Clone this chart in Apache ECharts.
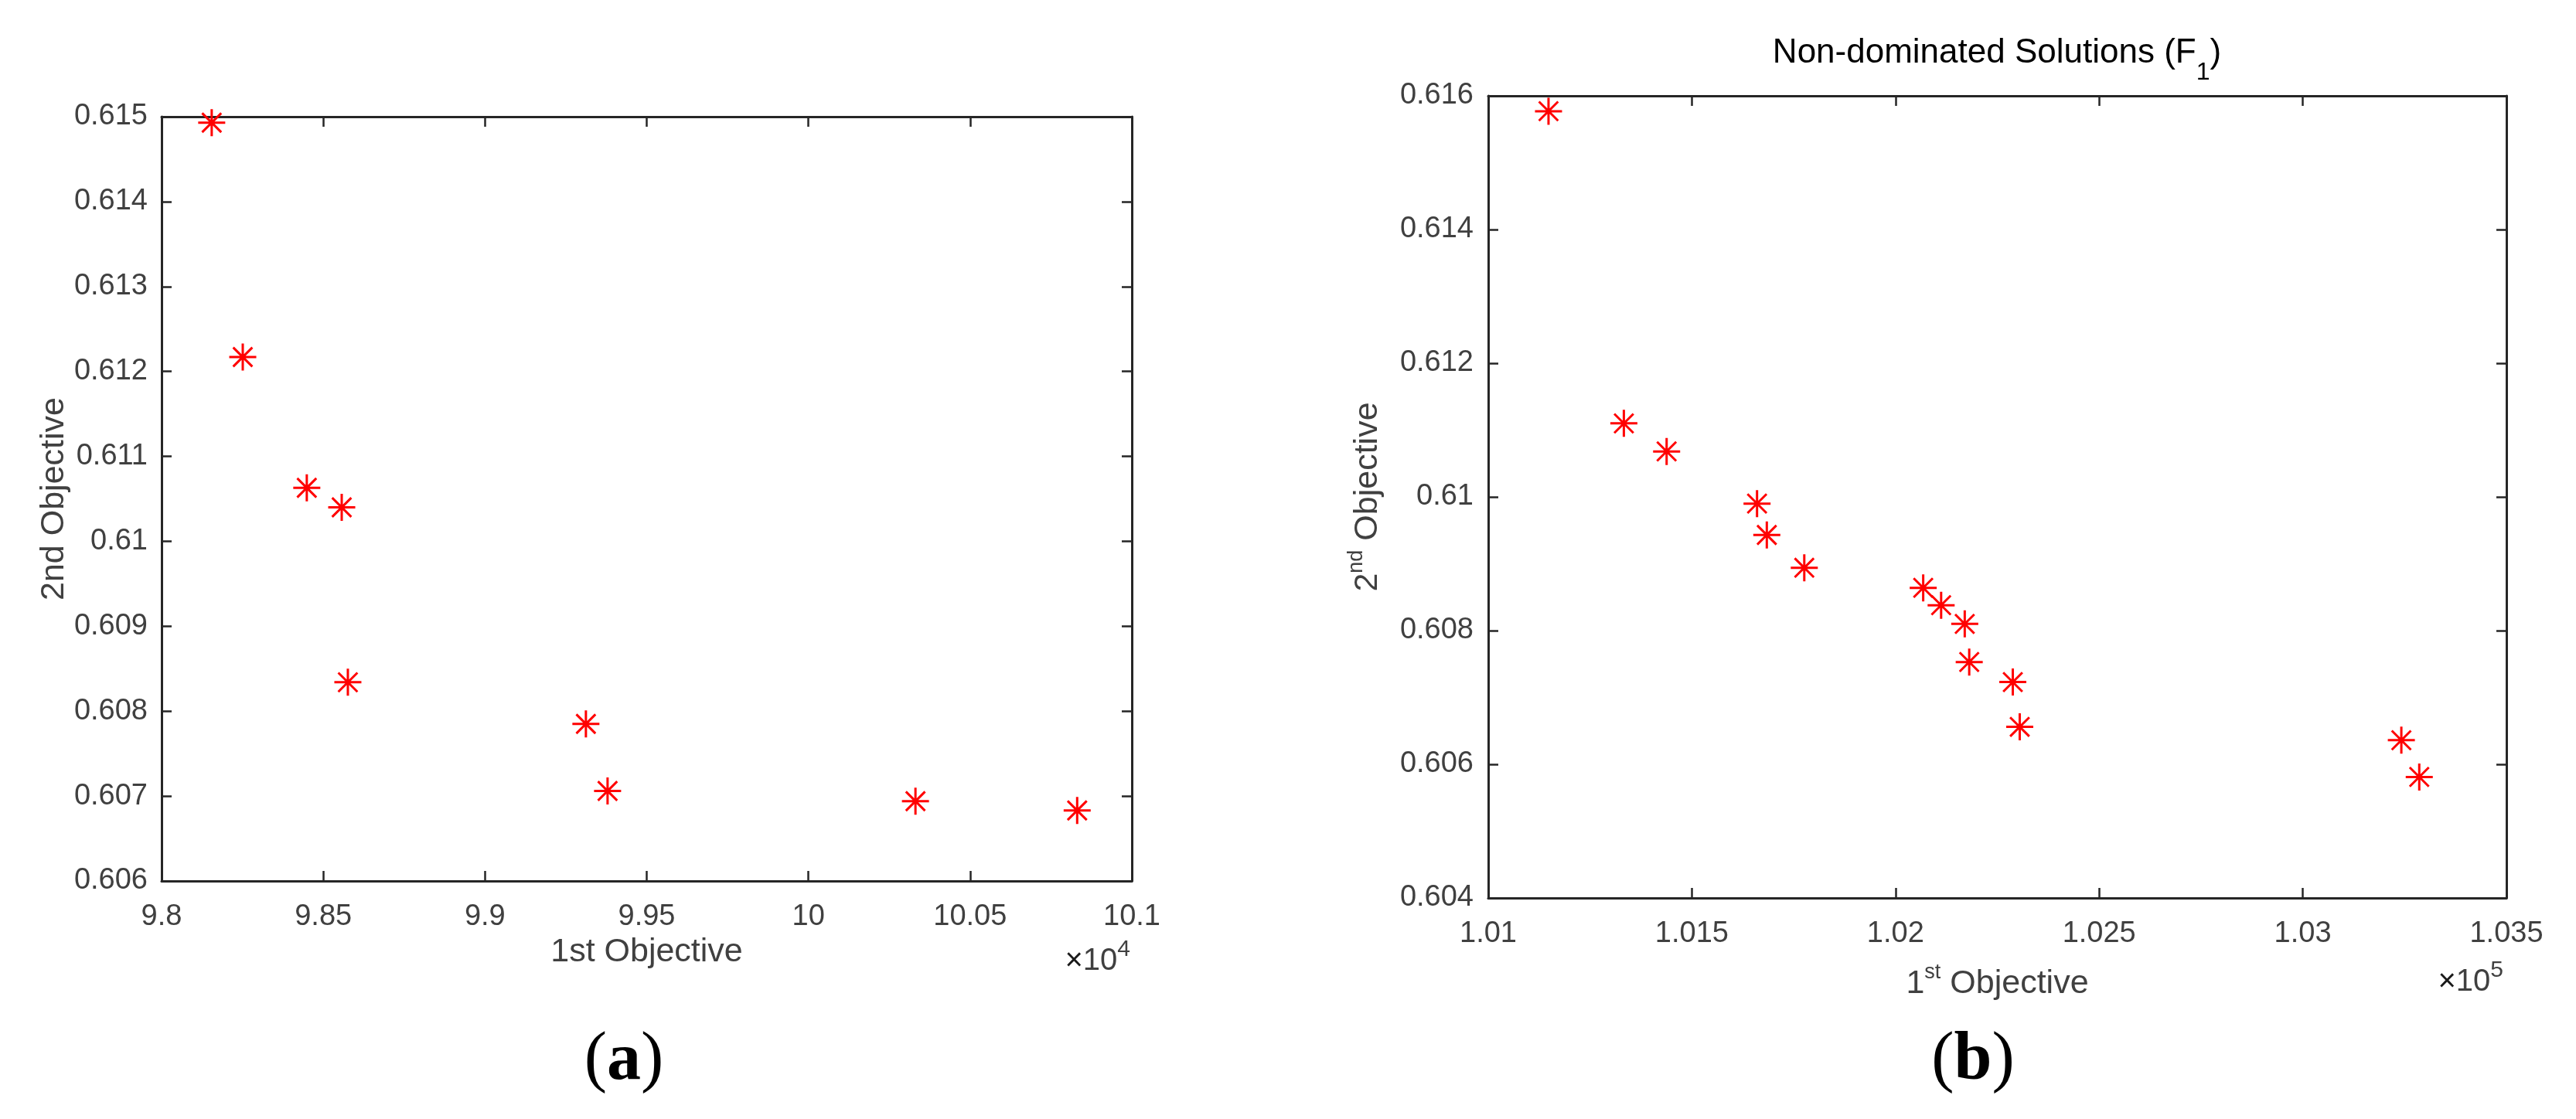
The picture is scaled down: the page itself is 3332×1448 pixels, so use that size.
<!DOCTYPE html>
<html>
  <head>
    <meta charset="utf-8">
    <title>Objectives</title>
    <style media="screen">
    html, body {margin:0; padding:0; background:#fff}
    #main {width:3332px; height:1448px}
    </style>
    <script src="https://cdn.jsdelivr.net/npm/echarts@6/dist/echarts.min.js" charset="utf-8"></script>
  </head>
  <body>
    <div id="main"></div>
    <script>
    // (a) points
    const aFirst = [9.8155, 9.8251, 9.8449, 9.8557, 9.8576, 9.9312, 9.9379, 10.0331, 10.0831];
    const aSecond = [0.61493, 0.61217, 0.61063, 0.6104, 0.60834, 0.60785, 0.60706, 0.60694, 0.60683];
    // (b) points
    const bFirst = [1.01148, 1.01333, 1.01438, 1.0166, 1.01684, 1.01776, 1.02068, 1.02112, 1.0217, 1.02181, 1.02288, 1.02305, 1.03242, 1.03286];
    const bSecond = [0.61577, 0.6111, 0.61068, 0.6099, 0.60943, 0.60894, 0.60864, 0.60838, 0.6081, 0.60753, 0.60723, 0.60656, 0.60636, 0.60581];

    // axis ranges [min, max, step]
    const aXRange = [9.8, 10.1, 0.05];
    const aYRange = [0.606, 0.615, 0.001];
    const bXRange = [1.01, 1.035, 0.005];
    const bYRange = [0.604, 0.616, 0.002];

    const FONT = '"Liberation Sans", Arial, Helvetica, sans-serif';
    const SERIF = '"Liberation Serif", "Times New Roman", serif';
    const AX = '#262626';
    const TXT = '#404040';
    const star = 'path://M0 -1 L0 1 M-1 0 L1 0 M-0.7071 -0.7071 L0.7071 0.7071 M-0.7071 0.7071 L0.7071 -0.7071';

    const fmt = v => String(+v.toFixed(4));

    function axis(range, grid, pos, labelled, extra){
      return Object.assign({
        type: 'value', gridIndex: grid, position: pos,
        min: range[0], max: range[1], interval: range[2],
        axisLine: {show: true, onZero: false, lineStyle: {color: AX, width: 3}},
        axisTick: {show: true, inside: true, length: 13, lineStyle: {color: AX, width: 2.5}},
        axisLabel: {show: labelled, formatter: fmt, color: TXT, fontSize: 38, fontFamily: FONT},
        splitLine: {show: false}
      }, extra || {});
    }

    const nameStyle = {
      color: TXT, fontSize: 43, fontFamily: FONT,
      rich: {
        t: {color: TXT, fontSize: 43, fontFamily: FONT},
        s: {color: TXT, fontSize: 27, fontFamily: FONT, padding: [0, 0, 30, 0]}
      }
    };

    let chart = echarts.init(document.getElementById('main'));

    let option = {
      backgroundColor: '#fff',
      animation: false,
      grid: [
        {left: 209, top: 151, width: 1255, height: 989, outerBoundsMode: 'none'},
        {left: 1925, top: 124, width: 1317, height: 1038, outerBoundsMode: 'none'}
      ],
      xAxis: [
        axis(aXRange, 0, 'bottom', true, {
          axisLabel: {show: true, formatter: fmt, color: TXT, fontSize: 38, fontFamily: FONT, margin: 28},
          name: '1st Objective', nameLocation: 'middle', nameGap: 70, nameTextStyle: nameStyle
        }),
        axis(aXRange, 0, 'top', false),
        axis(bXRange, 1, 'bottom', true, {
          axisLabel: {show: true, formatter: fmt, color: TXT, fontSize: 38, fontFamily: FONT, margin: 28},
          name: '{t|1}{s|st}{t| Objective}', nameLocation: 'middle', nameGap: 83, nameTextStyle: nameStyle
        }),
        axis(bXRange, 1, 'top', false)
      ],
      yAxis: [
        axis(aYRange, 0, 'left', true, {
          axisLabel: {show: true, formatter: fmt, color: TXT, fontSize: 38, fontFamily: FONT, margin: 18},
          name: '2nd Objective', nameLocation: 'middle', nameGap: 117, nameTextStyle: nameStyle
        }),
        axis(aYRange, 0, 'right', false),
        axis(bYRange, 1, 'left', true, {
          axisLabel: {show: true, formatter: fmt, color: TXT, fontSize: 38, fontFamily: FONT, margin: 19},
          name: '{t|2}{s|nd}{t| Objective}', nameLocation: 'middle', nameGap: 127, nameTextStyle: nameStyle
        }),
        axis(bYRange, 1, 'right', false)
      ],
      series: [
        {
          type: 'scatter', xAxisIndex: 0, yAxisIndex: 0,
          data: aFirst.map((x, i) => [x, aSecond[i]]),
          symbol: star, symbolSize: 35,
          itemStyle: {color: '#ff0000', borderColor: '#ff0000', borderWidth: 3, opacity: 1}
        },
        {
          type: 'scatter', xAxisIndex: 2, yAxisIndex: 2,
          data: bFirst.map((x, i) => [x, bSecond[i]]),
          symbol: star, symbolSize: 35,
          itemStyle: {color: '#ff0000', borderColor: '#ff0000', borderWidth: 3, opacity: 1}
        }
      ],
      graphic: [
        {
          type: 'text', x: 2583, y: 69,
          style: {
            text: '{t|Non-dominated Solutions (F}{u|1}{t|)}',
            align: 'center', verticalAlign: 'middle',
            rich: {
              t: {fill: '#000', fontSize: 44, fontFamily: FONT},
              u: {fill: '#000', fontSize: 32, fontFamily: FONT, padding: [50, 0, 0, 0]}
            }
          }
        },
        {
          type: 'text', x: 1462, y: 1244,
          style: {
            text: '{x|×}{t|10}{s|4}', align: 'right', verticalAlign: 'middle',
            rich: {
              x: {fill: '#1a1a1a', fontSize: 40, fontFamily: FONT},
              t: {fill: TXT, fontSize: 40, fontFamily: FONT},
              s: {fill: TXT, fontSize: 30, fontFamily: FONT, padding: [0, 0, 30, 0]}
            }
          }
        },
        {
          type: 'text', x: 3238, y: 1271,
          style: {
            text: '{x|×}{t|10}{s|5}', align: 'right', verticalAlign: 'middle',
            rich: {
              x: {fill: '#1a1a1a', fontSize: 40, fontFamily: FONT},
              t: {fill: TXT, fontSize: 40, fontFamily: FONT},
              s: {fill: TXT, fontSize: 30, fontFamily: FONT, padding: [0, 0, 30, 0]}
            }
          }
        },
        {
          type: 'text', x: 807, y: 1373,
          style: {
            text: '{p|(}{b|a}{p|)}', align: 'center', verticalAlign: 'middle',
            rich: {
              p: {fill: '#000', fontSize: 88, fontFamily: SERIF},
              b: {fill: '#000', fontSize: 88, fontFamily: SERIF, fontWeight: 'bold'}
            }
          }
        },
        {
          type: 'text', x: 2552, y: 1373,
          style: {
            text: '{p|(}{b|b}{p|)}', align: 'center', verticalAlign: 'middle',
            rich: {
              p: {fill: '#000', fontSize: 88, fontFamily: SERIF},
              b: {fill: '#000', fontSize: 88, fontFamily: SERIF, fontWeight: 'bold'}
            }
          }
        }
      ]
    };

    chart.setOption(option);
    </script>
  </body>
</html>
